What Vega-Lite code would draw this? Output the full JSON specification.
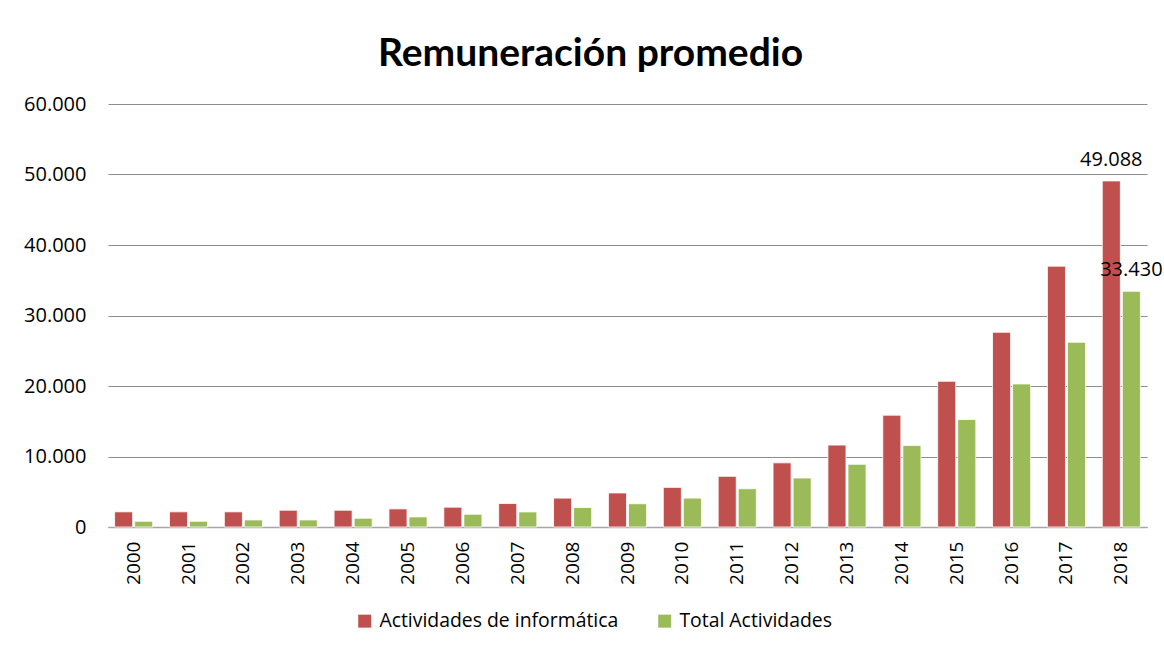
{
  "$schema": "https://vega.github.io/schema/vega-lite/v6.json",
  "width": 1039,
  "height": 423,
  "autosize": {"type": "none"},
  "padding": {"left": 108, "top": 104, "right": 17, "bottom": 123},
  "background": "white",
  "config": {
    "locale": {"number": {"decimal": ",", "thousands": ".", "grouping": [3], "currency": ["$", ""]}},
    "font": "Open Sans, sans-serif",
    "view": {"stroke": null}
  },
  "title": {
    "text": "Remuneración promedio",
    "fontSize": 39,
    "fontWeight": "bold",
    "font": "Lato, sans-serif",
    "color": "black",
    "anchor": "middle",
    "dx": -37,
    "offset": 20
  },
  "data": {
    "values": [
      {"year": "2000", "serie": "Actividades de informática", "valor": 2150},
      {"year": "2000", "serie": "Total Actividades", "valor": 810},
      {"year": "2001", "serie": "Actividades de informática", "valor": 2150},
      {"year": "2001", "serie": "Total Actividades", "valor": 810},
      {"year": "2002", "serie": "Actividades de informática", "valor": 2150},
      {"year": "2002", "serie": "Total Actividades", "valor": 1000},
      {"year": "2003", "serie": "Actividades de informática", "valor": 2380},
      {"year": "2003", "serie": "Total Actividades", "valor": 1000},
      {"year": "2004", "serie": "Actividades de informática", "valor": 2380},
      {"year": "2004", "serie": "Total Actividades", "valor": 1240},
      {"year": "2005", "serie": "Actividades de informática", "valor": 2570},
      {"year": "2005", "serie": "Total Actividades", "valor": 1430},
      {"year": "2006", "serie": "Actividades de informática", "valor": 2810},
      {"year": "2006", "serie": "Total Actividades", "valor": 1810},
      {"year": "2007", "serie": "Actividades de informática", "valor": 3330},
      {"year": "2007", "serie": "Total Actividades", "valor": 2140},
      {"year": "2008", "serie": "Actividades de informática", "valor": 4100},
      {"year": "2008", "serie": "Total Actividades", "valor": 2760},
      {"year": "2009", "serie": "Actividades de informática", "valor": 4830},
      {"year": "2009", "serie": "Total Actividades", "valor": 3300},
      {"year": "2010", "serie": "Actividades de informática", "valor": 5620},
      {"year": "2010", "serie": "Total Actividades", "valor": 4100},
      {"year": "2011", "serie": "Actividades de informática", "valor": 7190},
      {"year": "2011", "serie": "Total Actividades", "valor": 5430},
      {"year": "2012", "serie": "Actividades de informática", "valor": 9100},
      {"year": "2012", "serie": "Total Actividades", "valor": 6950},
      {"year": "2013", "serie": "Actividades de informática", "valor": 11620},
      {"year": "2013", "serie": "Total Actividades", "valor": 8900},
      {"year": "2014", "serie": "Actividades de informática", "valor": 15860},
      {"year": "2014", "serie": "Total Actividades", "valor": 11570},
      {"year": "2015", "serie": "Actividades de informática", "valor": 20670},
      {"year": "2015", "serie": "Total Actividades", "valor": 15240},
      {"year": "2016", "serie": "Actividades de informática", "valor": 27620},
      {"year": "2016", "serie": "Total Actividades", "valor": 20290},
      {"year": "2017", "serie": "Actividades de informática", "valor": 37000},
      {"year": "2017", "serie": "Total Actividades", "valor": 26200},
      {"year": "2018", "serie": "Actividades de informática", "valor": 49088},
      {"year": "2018", "serie": "Total Actividades", "valor": 33430}
    ]
  },
  "encoding": {
    "x": {
      "field": "year",
      "type": "nominal",
      "scale": {"paddingInner": 0.305, "paddingOuter": 0.12},
      "axis": {
        "title": null,
        "labelAngle": -90,
        "labelAlign": "right",
        "labelBaseline": "middle",
        "labelFontSize": 19,
        "labelColor": "black",
        "labelPadding": 14,
        "ticks": false,
        "domainColor": "#a6a6a6",
        "domainWidth": 1.5
      }
    },
    "xOffset": {"field": "serie", "type": "nominal", "scale": {"paddingInner": 0.1}},
    "y": {
      "field": "valor",
      "type": "quantitative",
      "scale": {"domain": [0, 60000]},
      "axis": {
        "title": null,
        "values": [0, 10000, 20000, 30000, 40000, 50000, 60000],
        "format": ",.0f",
        "labelFontSize": 20,
        "labelColor": "black",
        "labelPadding": 22,
        "ticks": false,
        "domain": false,
        "gridColor": "#8c8c8c",
        "gridWidth": 1.2
      }
    }
  },
  "layer": [
    {
      "mark": {"type": "bar", "stroke": "white", "strokeWidth": 0.8},
      "encoding": {
        "color": {
          "field": "serie",
          "type": "nominal",
          "scale": {"domain": ["Actividades de informática", "Total Actividades"], "range": ["#C0504D", "#9BBB59"]},
          "legend": {
            "title": null,
            "orient": "none",
            "direction": "horizontal",
            "legendX": 247,
            "legendY": 507,
            "symbolType": "square",
            "symbolSize": 169,
            "symbolStrokeWidth": 0,
            "labelFontSize": 19.4,
            "labelColor": "black",
            "labelLimit": 0,
            "columnPadding": 36,
            "labelOffset": 5
          }
        }
      }
    },
    {
      "transform": [{"filter": "datum.year == '2018'"}],
      "mark": {"type": "text", "baseline": "alphabetic", "dy": -15, "fontSize": 20, "color": "black"},
      "encoding": {"text": {"field": "valor", "type": "quantitative", "format": ",.0f"}}
    }
  ]
}
